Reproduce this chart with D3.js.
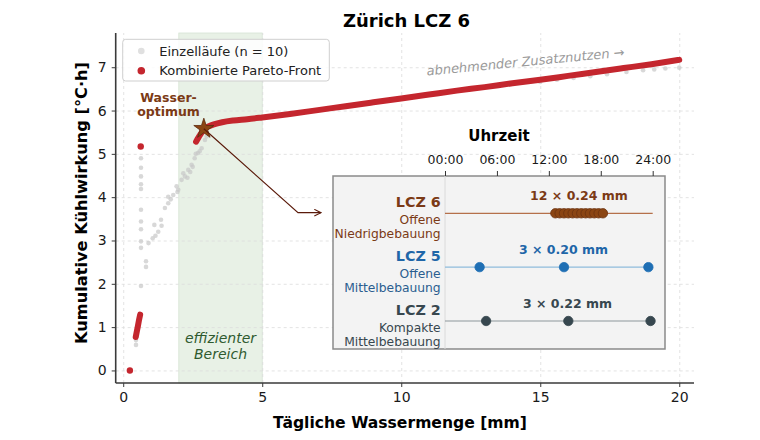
<!DOCTYPE html>
<html>
<head>
<meta charset="utf-8">
<script src="https://cdn.jsdelivr.net/npm/d3@7"></script>
<style>
  body { margin: 0; background: #fff; }
  text { font-family: "DejaVu Sans", sans-serif; }
</style>
</head>
<body>
<div id="chart"></div>
<script>
// single runs (grey cloud)
var runsX = [0.64, 0.64, 0.64, 0.64, 0.64, 0.64, 0.64, 0.64, 0.64, 0.64, 0.82, 0.82, 0.64, 0.46, 0.46,
    0.91, 1.16, 1.12, 1.36, 1.38, 1.50, 1.62, 1.62, 1.71, 1.80, 1.92, 1.98, 2.10, 2.16, 2.22, 2.31, 2.34, 2.41, 2.46, 2.57, 2.61, 2.69, 2.82, 2.94, 3.00,
    1.06, 1.26, 1.95, 2.50, 2.75,
    15.0, 15.6, 16.2, 16.8, 17.4, 18.1, 18.7, 19.1, 19.5, 20.0];
var runsY = [4.90, 4.68, 4.48, 4.30, 4.19, 3.71, 3.44, 3.26, 2.98, 2.83, 2.52, 2.39, 1.95, 0.59, 0.70,
    2.94, 3.11, 3.36, 3.48, 3.34, 3.75, 3.86, 4.01, 3.95, 4.05, 4.25, 4.17, 4.40, 4.55, 4.48, 4.45, 4.63, 4.58, 4.75, 4.90, 5.00, 5.02, 5.13, 5.32, 5.40,
    3.05, 3.20, 4.12, 4.70, 5.06,
    6.66, 6.71, 6.75, 6.79, 6.84, 6.89, 6.93, 6.95, 6.97, 6.99];

// combined pareto front
var frontX = [2.62, 2.71, 2.81, 2.90, 3.06, 3.26, 3.56, 3.96, 4.46, 5, 6, 7, 8, 9, 10, 11, 12, 13, 14, 15, 16, 17, 18, 19, 20];
var frontY = [5.28, 5.38, 5.48, 5.58, 5.63, 5.68, 5.73, 5.77, 5.80, 5.84, 5.92, 6.01, 6.10, 6.19, 6.28, 6.37, 6.46, 6.54, 6.63, 6.71, 6.80, 6.89, 6.98, 7.07, 7.17];
var lowFrontX = [0.45, 0.49, 0.53, 0.57, 0.61];
var lowFrontY = [0.77, 0.90, 1.03, 1.17, 1.29];
var singleFrontX = [0.24, 0.63];
var singleFrontY = [0, 5.17];

var optimum = [2.90, 5.58];
var efficientBand = [2, 5];

var xTicks = [0, 5, 10, 15, 20];
var yTicks = [0, 1, 2, 3, 4, 5, 6, 7];

// inset: irrigation schedules
var zones = ["LCZ 6", "LCZ 5", "LCZ 2"];
var zoneNames = [["Offene", "Niedrigbebauung"], ["Offene", "Mittelbebauung"], ["Kompakte", "Mittelbebauung"]];
var zoneDoses = ["12 × 0.24 mm", "3 × 0.20 mm", "3 × 0.22 mm"];
var zoneTimes = [
    ["12:45", "13:15", "13:45", "14:15", "14:45", "15:15", "15:45", "16:15", "16:45", "17:15", "17:45", "18:15"],
    ["04:00", "13:45", "23:30"],
    ["04:45", "14:15", "23:45"]
];
var hourTicks = [0, 6, 12, 18, 24];

var zoneColor = ["#7b3a16", "#1f66a8", "#37474f"];
var zoneText = ["#7b3a16", "#2a5d8f", "#37474f"];
var zoneLine = ["#b5704a", "#8fbcdc", "#8d979c"];
var zoneDot = ["#8b4513", "#1f6fb4", "#37474f"];

var red = "#c4262e";

// set the dimensions and margins of the graph
var margin = { top: 33, right: 66, bottom: 57, left: 115.7 },
    width = 760 - margin.left - margin.right,
    height = 440 - margin.top - margin.bottom;

var root = d3.select("#chart")
    .append("svg")
    .attr("width", 760)
    .attr("height", 440);

var svg = root.append("g")
    .attr("transform", "translate(" + margin.left + "," + margin.top + ")");

var x = d3.scaleLinear().domain([-0.27, 20.53]).range([0, width]);
var y = d3.scaleLinear().domain([-0.29, 7.79]).range([height, 0]);

// efficient region
svg.append("rect")
    .attr("x", x(efficientBand[0]))
    .attr("width", x(efficientBand[1]) - x(efficientBand[0]))
    .attr("y", 0)
    .attr("height", height)
    .attr("fill", "#e8f1e6")
    .attr("stroke", "#d6e4d4")
    .attr("stroke-width", 0.8);

// gridlines
svg.append("g")
    .attr("class", "grid")
    .attr("transform", "translate(0," + height + ")")
    .call(d3.axisBottom(x).tickValues(xTicks).tickSize(-height).tickFormat(""));
svg.append("g")
    .attr("class", "grid")
    .call(d3.axisLeft(y).tickValues(yTicks).tickSize(-width).tickFormat(""));
svg.selectAll(".grid .domain").remove();
svg.selectAll(".grid line")
    .attr("stroke", "#dcdcdc")
    .attr("stroke-width", 0.8)
    .attr("stroke-dasharray", "3,3");

svg.append("text")
    .attr("y", y(0.64))
    .attr("text-anchor", "middle")
    .attr("fill", "#2f5a2f")
    .style("font-size", "14px")
    .style("font-style", "italic")
    .selectAll("tspan")
    .data(["effizienter", "Bereich"])
    .enter()
    .append("tspan")
    .attr("x", x(3.5))
    .attr("dy", function (d, i) { return i == 0 ? 0 : 16; })
    .text(function (d) { return d; });

// grey single runs
svg.selectAll(".run")
    .data(runsX.map(function (d, i) { return [d, runsY[i]]; }))
    .enter()
    .append("circle")
    .attr("class", "run")
    .attr("cx", function (d) { return x(d[0]); })
    .attr("cy", function (d) { return y(d[1]); })
    .attr("r", 2.3)
    .attr("fill", "#c8c8c8")
    .attr("opacity", 0.7);

// pareto front
var line = d3.line()
    .x(function (d) { return x(d[0]); })
    .y(function (d) { return y(d[1]); })
    .curve(d3.curveMonotoneX);

svg.append("path")
    .datum(frontX.map(function (d, i) { return [d, frontY[i]]; }))
    .attr("d", line)
    .attr("fill", "none")
    .attr("stroke", red)
    .attr("stroke-width", 6)
    .attr("stroke-linecap", "round");

svg.append("path")
    .datum(lowFrontX.map(function (d, i) { return [d, lowFrontY[i]]; }))
    .attr("d", d3.line().x(function (d) { return x(d[0]); }).y(function (d) { return y(d[1]); }))
    .attr("fill", "none")
    .attr("stroke", red)
    .attr("stroke-width", 6)
    .attr("stroke-linecap", "round");

svg.selectAll(".single")
    .data(singleFrontX.map(function (d, i) { return [d, singleFrontY[i]]; }))
    .enter()
    .append("circle")
    .attr("cx", function (d) { return x(d[0]); })
    .attr("cy", function (d) { return y(d[1]); })
    .attr("r", 3.2)
    .attr("fill", red);

// axes
var xAxis = svg.append("g")
    .attr("transform", "translate(0," + height + ")")
    .call(d3.axisBottom(x).tickValues(xTicks).tickSize(4).tickPadding(5));
var yAxis = svg.append("g")
    .call(d3.axisLeft(y).tickValues(yTicks).tickSize(4).tickPadding(5));
[xAxis, yAxis].forEach(function (a) {
    a.select(".domain").attr("stroke", "#3a3a3a").attr("stroke-width", 1.6);
    a.selectAll(".tick line").attr("stroke", "#3a3a3a").attr("stroke-width", 1);
    a.selectAll(".tick text")
        .attr("fill", "#1a1a1a")
        .style("font-family", "DejaVu Sans")
        .style("font-size", "14px");
});
// remove the outer ticks that d3 draws on the domain path
xAxis.select(".domain").attr("d", "M0,0H" + width);
yAxis.select(".domain").attr("d", "M0,0V" + height);

// labels
root.append("text")
    .attr("x", 406.5)
    .attr("y", 27)
    .attr("text-anchor", "middle")
    .style("font-size", "18px")
    .style("font-weight", "bold")
    .text("Zürich LCZ 6");

root.append("text")
    .attr("x", 400)
    .attr("y", 428)
    .attr("text-anchor", "middle")
    .style("font-size", "15.6px")
    .style("font-weight", "bold")
    .text("Tägliche Wassermenge [mm]");

root.append("text")
    .attr("transform", "translate(86.5," + 203 + ") rotate(-90)")
    .attr("text-anchor", "middle")
    .style("font-size", "16.2px")
    .style("font-weight", "bold")
    .text("Kumulative Kühlwirkung [°C·h]");

// decreasing additional benefit
svg.append("text")
    .attr("transform", "translate(" + (526 - margin.left) + "," + (66 - margin.top) + ") rotate(-5.5)")
    .attr("text-anchor", "middle")
    .attr("fill", "#9a9a9a")
    .style("font-size", "13px")
    .style("font-style", "italic")
    .text("abnehmender Zusatznutzen →");

// legend
var legend = root.append("g");
legend.append("rect")
    .attr("x", 122.7).attr("y", 39.3)
    .attr("width", 206.6).attr("height", 41.7)
    .attr("rx", 3)
    .attr("fill", "#fff")
    .attr("fill-opacity", 0.85)
    .attr("stroke", "#cfcfcf");
legend.append("circle").attr("cx", 141.3).attr("cy", 51).attr("r", 3.3).attr("fill", "#e0e0e0");
legend.append("circle").attr("cx", 141.3).attr("cy", 70.7).attr("r", 3.8).attr("fill", red);
legend.append("text").attr("x", 159.3).attr("y", 55.5).style("font-size", "13px").attr("fill", "#222").text("Einzelläufe (n = 10)");
legend.append("text").attr("x", 159.3).attr("y", 75.2).style("font-size", "13px").attr("fill", "#222").text("Kombinierte Pareto-Front");

// optimum star + arrow to the inset
root.append("defs").append("marker")
    .attr("id", "arr")
    .attr("viewBox", "0 0 10 10")
    .attr("refX", 9).attr("refY", 5)
    .attr("markerWidth", 7).attr("markerHeight", 7)
    .attr("orient", "auto")
    .append("path")
    .attr("d", "M1,1 L9,5 L1,9")
    .attr("fill", "none")
    .attr("stroke", "#5a1a0a")
    .attr("stroke-width", 1.3);

var sx = margin.left + x(optimum[0]), sy = margin.top + y(optimum[1]);
root.append("path")
    .attr("d", "M" + sx + "," + sy + " L298,212.7 L321,212.7")
    .attr("fill", "none")
    .attr("stroke", "#5a1a0a")
    .attr("stroke-width", 1.2)
    .attr("marker-end", "url(#arr)");

svg.append("path")
    .attr("transform", "translate(" + x(optimum[0]) + "," + y(optimum[1]) + ")")
    .attr("d", d3.symbol(d3.symbolStar).size(125)())
    .attr("fill", "#8b4513")
    .attr("stroke", "#5a2a0c")
    .attr("stroke-width", 0.8);

svg.append("text")
    .attr("y", y(6.19))
    .attr("text-anchor", "middle")
    .attr("fill", "#7b3a16")
    .style("font-size", "12.5px")
    .style("font-weight", "bold")
    .selectAll("tspan")
    .data(["Wasser-", "optimum"])
    .enter()
    .append("tspan")
    .attr("x", x(1.63))
    .attr("dy", function (d, i) { return i == 0 ? 0 : 14; })
    .text(function (d) { return d; });

// inset with schedules
var inset = root.append("g");
inset.append("rect")
    .attr("x", 333).attr("y", 176)
    .attr("width", 332).attr("height", 173)
    .attr("fill", "#f3f3f3")
    .attr("stroke", "#8a8a8a")
    .attr("stroke-width", 1.5);

var t = d3.scaleLinear().domain([0, 24]).range([445, 652.7]);
var row = d3.scalePoint().domain(zones).range([213.3, 321]);

inset.append("line")
    .attr("x1", t(0)).attr("x2", t(0))
    .attr("y1", 176).attr("y2", 349)
    .attr("stroke", "#dadada")
    .attr("stroke-width", 1);

var tAxis = inset.append("g")
    .attr("transform", "translate(0,176)")
    .call(d3.axisTop(t).tickValues(hourTicks).tickSize(5).tickPadding(7)
        .tickFormat(function (d) { return (d < 10 ? "0" : "") + d + ":00"; }));
tAxis.select(".domain").remove();
tAxis.selectAll(".tick line").attr("stroke", "#333");
tAxis.selectAll(".tick text")
    .attr("fill", "#1a1a1a")
    .style("font-family", "DejaVu Sans")
    .style("font-size", "12.5px");

inset.append("text")
    .attr("x", 499).attr("y", 141)
    .attr("text-anchor", "middle")
    .style("font-size", "15px")
    .style("font-weight", "bold")
    .text("Uhrzeit");

function hours(s) {
    var p = s.split(":");
    return +p[0] + p[1] / 60;
}

zones.forEach(function (z, i) {
    var ry = row(z);
    inset.append("line")
        .attr("x1", t(0)).attr("x2", t(24))
        .attr("y1", ry).attr("y2", ry)
        .attr("stroke", zoneLine[i])
        .attr("stroke-width", 1.2);

    inset.selectAll(".dot" + i)
        .data(zoneTimes[i])
        .enter()
        .append("circle")
        .attr("cx", function (d) { return t(hours(d)); })
        .attr("cy", ry)
        .attr("r", 4.7)
        .attr("fill", zoneDot[i])
        .attr("stroke", i == 0 ? "#6b3210" : zoneDot[i])
        .attr("stroke-width", 0.8);

    inset.append("text")
        .attr("x", i == 0 ? 579 : t(13.7) + (i == 2 ? 4 : 0))
        .attr("y", ry - 13)
        .attr("text-anchor", "middle")
        .attr("fill", zoneColor[i])
        .style("font-size", "12.5px")
        .style("font-weight", "bold")
        .text(zoneDoses[i]);

    inset.append("text")
        .attr("x", 440.7).attr("y", ry - 6.5)
        .attr("text-anchor", "end")
        .attr("fill", zoneColor[i])
        .style("font-size", "14.3px")
        .style("font-weight", "bold")
        .text(z);

    inset.append("text")
        .attr("text-anchor", "end")
        .attr("fill", zoneText[i])
        .style("font-size", "12.3px")
        .selectAll("tspan")
        .data(zoneNames[i])
        .enter()
        .append("tspan")
        .attr("x", 440.7)
        .attr("y", function (d, j) { return ry + 11 + j * 13.5; })
        .text(function (d) { return d; });
});
</script>
</body>
</html>
